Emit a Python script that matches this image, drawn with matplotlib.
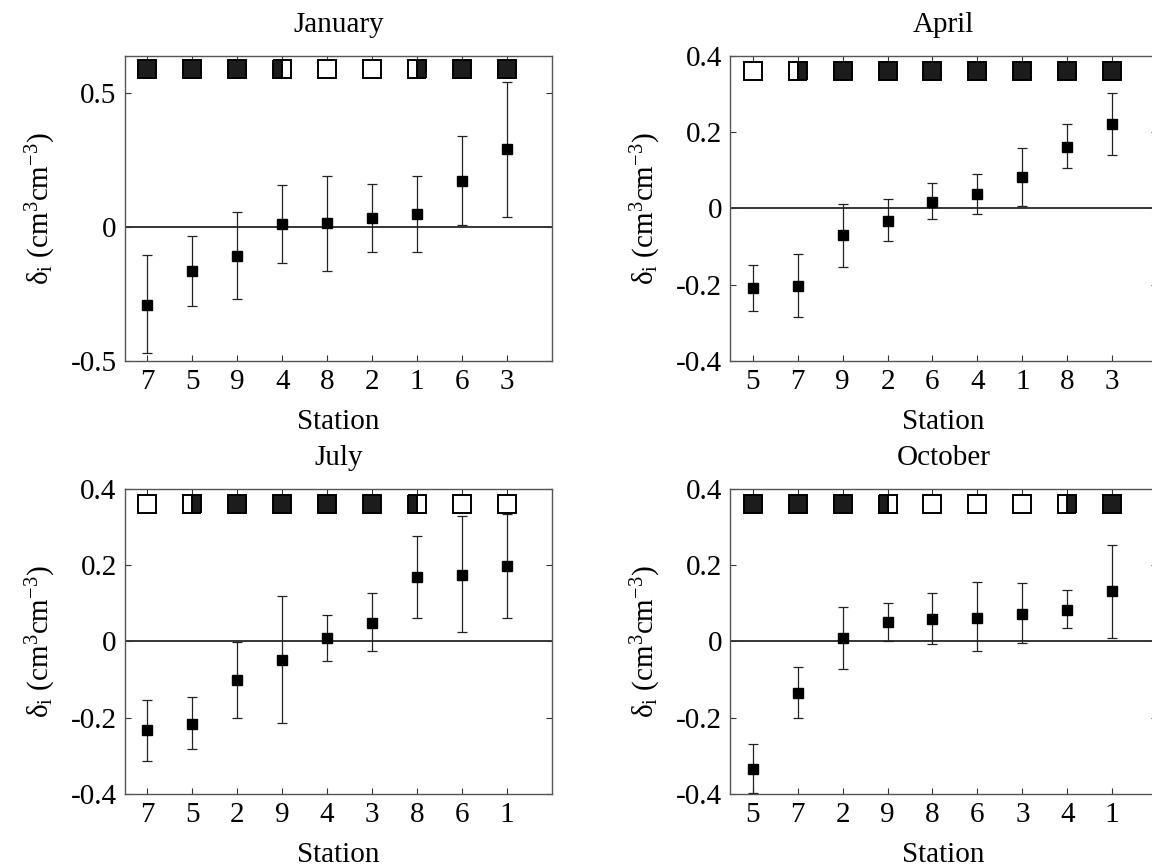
import matplotlib
matplotlib.use("Agg")
import matplotlib.pyplot as plt
from matplotlib.ticker import FixedLocator, FixedFormatter

plt.rcParams['font.family'] = ['Liberation Serif', 'DejaVu Serif']
plt.rcParams['mathtext.fontset'] = 'custom'
plt.rcParams['mathtext.rm'] = 'Liberation Serif'
plt.rcParams['mathtext.it'] = 'Liberation Serif:italic'
plt.rcParams['axes.unicode_minus'] = False

# station order on the x axis, mean deviation and error bar ends, per month
# flags for the top row: full / none / left (left half filled) / right
jan_stations = ['7', '5', '9', '4', '8', '2', '1', '6', '3']
jan_mean = [-0.290, -0.165, -0.109, 0.013, 0.014, 0.034, 0.048, 0.173, 0.291]
jan_low = [-0.471, -0.296, -0.271, -0.134, -0.163, -0.093, -0.093, 0.006, 0.039]
jan_high = [-0.103, -0.034, 0.058, 0.158, 0.191, 0.163, 0.191, 0.341, 0.541]
jan_flags = ['full', 'full', 'full', 'left', 'none', 'none', 'right', 'full', 'full']

apr_stations = ['5', '7', '9', '2', '6', '4', '1', '8', '3']
apr_mean = [-0.210, -0.203, -0.071, -0.032, 0.018, 0.039, 0.083, 0.162, 0.221]
apr_low = [-0.269, -0.285, -0.153, -0.087, -0.029, -0.014, 0.005, 0.105, 0.139]
apr_high = [-0.150, -0.119, 0.012, 0.024, 0.067, 0.091, 0.159, 0.222, 0.304]
apr_flags = ['none', 'right', 'full', 'full', 'full', 'full', 'full', 'full', 'full']

jul_stations = ['7', '5', '2', '9', '4', '3', '8', '6', '1']
jul_mean = [-0.234, -0.216, -0.101, -0.048, 0.008, 0.049, 0.169, 0.174, 0.198]
jul_low = [-0.313, -0.282, -0.201, -0.215, -0.052, -0.026, 0.062, 0.025, 0.062]
jul_high = [-0.153, -0.146, -0.001, 0.119, 0.069, 0.128, 0.277, 0.328, 0.334]
jul_flags = ['none', 'right', 'full', 'full', 'full', 'full', 'left', 'none', 'none']

oct_stations = ['5', '7', '2', '9', '8', '6', '3', '4', '1']
oct_mean = [-0.334, -0.136, 0.008, 0.052, 0.060, 0.062, 0.073, 0.083, 0.132]
oct_low = [-0.398, -0.201, -0.073, 0.002, -0.006, -0.025, -0.004, 0.034, 0.010]
oct_high = [-0.269, -0.068, 0.089, 0.102, 0.128, 0.156, 0.152, 0.135, 0.253]
oct_flags = ['full', 'full', 'full', 'left', 'none', 'none', 'none', 'right', 'full']

jan_yticks = [-0.5, 0, 0.5]
jan_ylabels = ['-0.5', '0', '0.5']
std_yticks = [-0.4, -0.2, 0, 0.2, 0.4]
std_ylabels = ['-0.4', '-0.2', '0', '0.2', '0.4']

FS = 21
DARK = '#1c1c1c'
SPINE = '#555555'


def draw_panel(ax, title, stations, mean, low, high, flags, ylim, yticks, ylabels, flag_y):
    x = list(range(1, len(stations) + 1))
    yerr = [[m - lo for m, lo in zip(mean, low)], [hi - m for m, hi in zip(mean, high)]]

    ax.axhline(0, color='black', lw=1.1, zorder=1)
    ax.errorbar(x, mean, yerr=yerr, fmt='s', color='black', ms=6.8, ecolor='#222222',
                elinewidth=0.9, capsize=3.8, capthick=0.9, zorder=3)

    for xi, fl in zip(x, flags):
        kw = dict(marker='s', ms=12.5, mec='black', mew=1.4, ls='none', zorder=4)
        if fl == 'full':
            ax.plot(xi, flag_y, mfc=DARK, **kw)
        elif fl == 'none':
            ax.plot(xi, flag_y, mfc='white', **kw)
        else:
            ax.plot(xi, flag_y, fillstyle=fl, mfc=DARK, markerfacecoloralt='white', **kw)

    ax.set_xlim(0.5, 10)
    ax.set_ylim(*ylim)
    ax.xaxis.set_major_locator(FixedLocator(x))
    ax.xaxis.set_major_formatter(FixedFormatter(stations))
    ax.yaxis.set_major_locator(FixedLocator(yticks))
    ax.yaxis.set_major_formatter(FixedFormatter(ylabels))
    ax.tick_params(direction='in', top=True, right=True, length=4, width=0.8,
                   color='#333333', labelsize=FS, pad=6)
    for s in ax.spines.values():
        s.set_color(SPINE)
        s.set_linewidth(1.0)

    ax.set_title(title, fontsize=FS, pad=17)
    ax.set_xlabel('Station', fontsize=FS, labelpad=10)
    ax.set_ylabel('δ$_{\\mathrm{i}}$ (cm$^{3}$cm$^{-3}$)', fontsize=FS)
    ax.yaxis.set_label_coords(-0.158, 0.5)


fig = plt.figure(figsize=(11.52, 8.66), dpi=100)
W, H = 0.3704, 0.3518
ax_jan = fig.add_axes([0.1085, 0.5835, W, H])
ax_apr = fig.add_axes([0.6340, 0.5835, W, H])
ax_jul = fig.add_axes([0.1085, 0.0835, W, H])
ax_oct = fig.add_axes([0.6340, 0.0835, W, H])

draw_panel(ax_jan, 'January', jan_stations, jan_mean, jan_low, jan_high, jan_flags,
           (-0.5, 0.64), jan_yticks, jan_ylabels, 0.59)
draw_panel(ax_apr, 'April', apr_stations, apr_mean, apr_low, apr_high, apr_flags,
           (-0.4, 0.4), std_yticks, std_ylabels, 0.36)
draw_panel(ax_jul, 'July', jul_stations, jul_mean, jul_low, jul_high, jul_flags,
           (-0.4, 0.4), std_yticks, std_ylabels, 0.36)
draw_panel(ax_oct, 'October', oct_stations, oct_mean, oct_low, oct_high, oct_flags,
           (-0.4, 0.4), std_yticks, std_ylabels, 0.36)

fig.savefig('out.png', dpi=100)
